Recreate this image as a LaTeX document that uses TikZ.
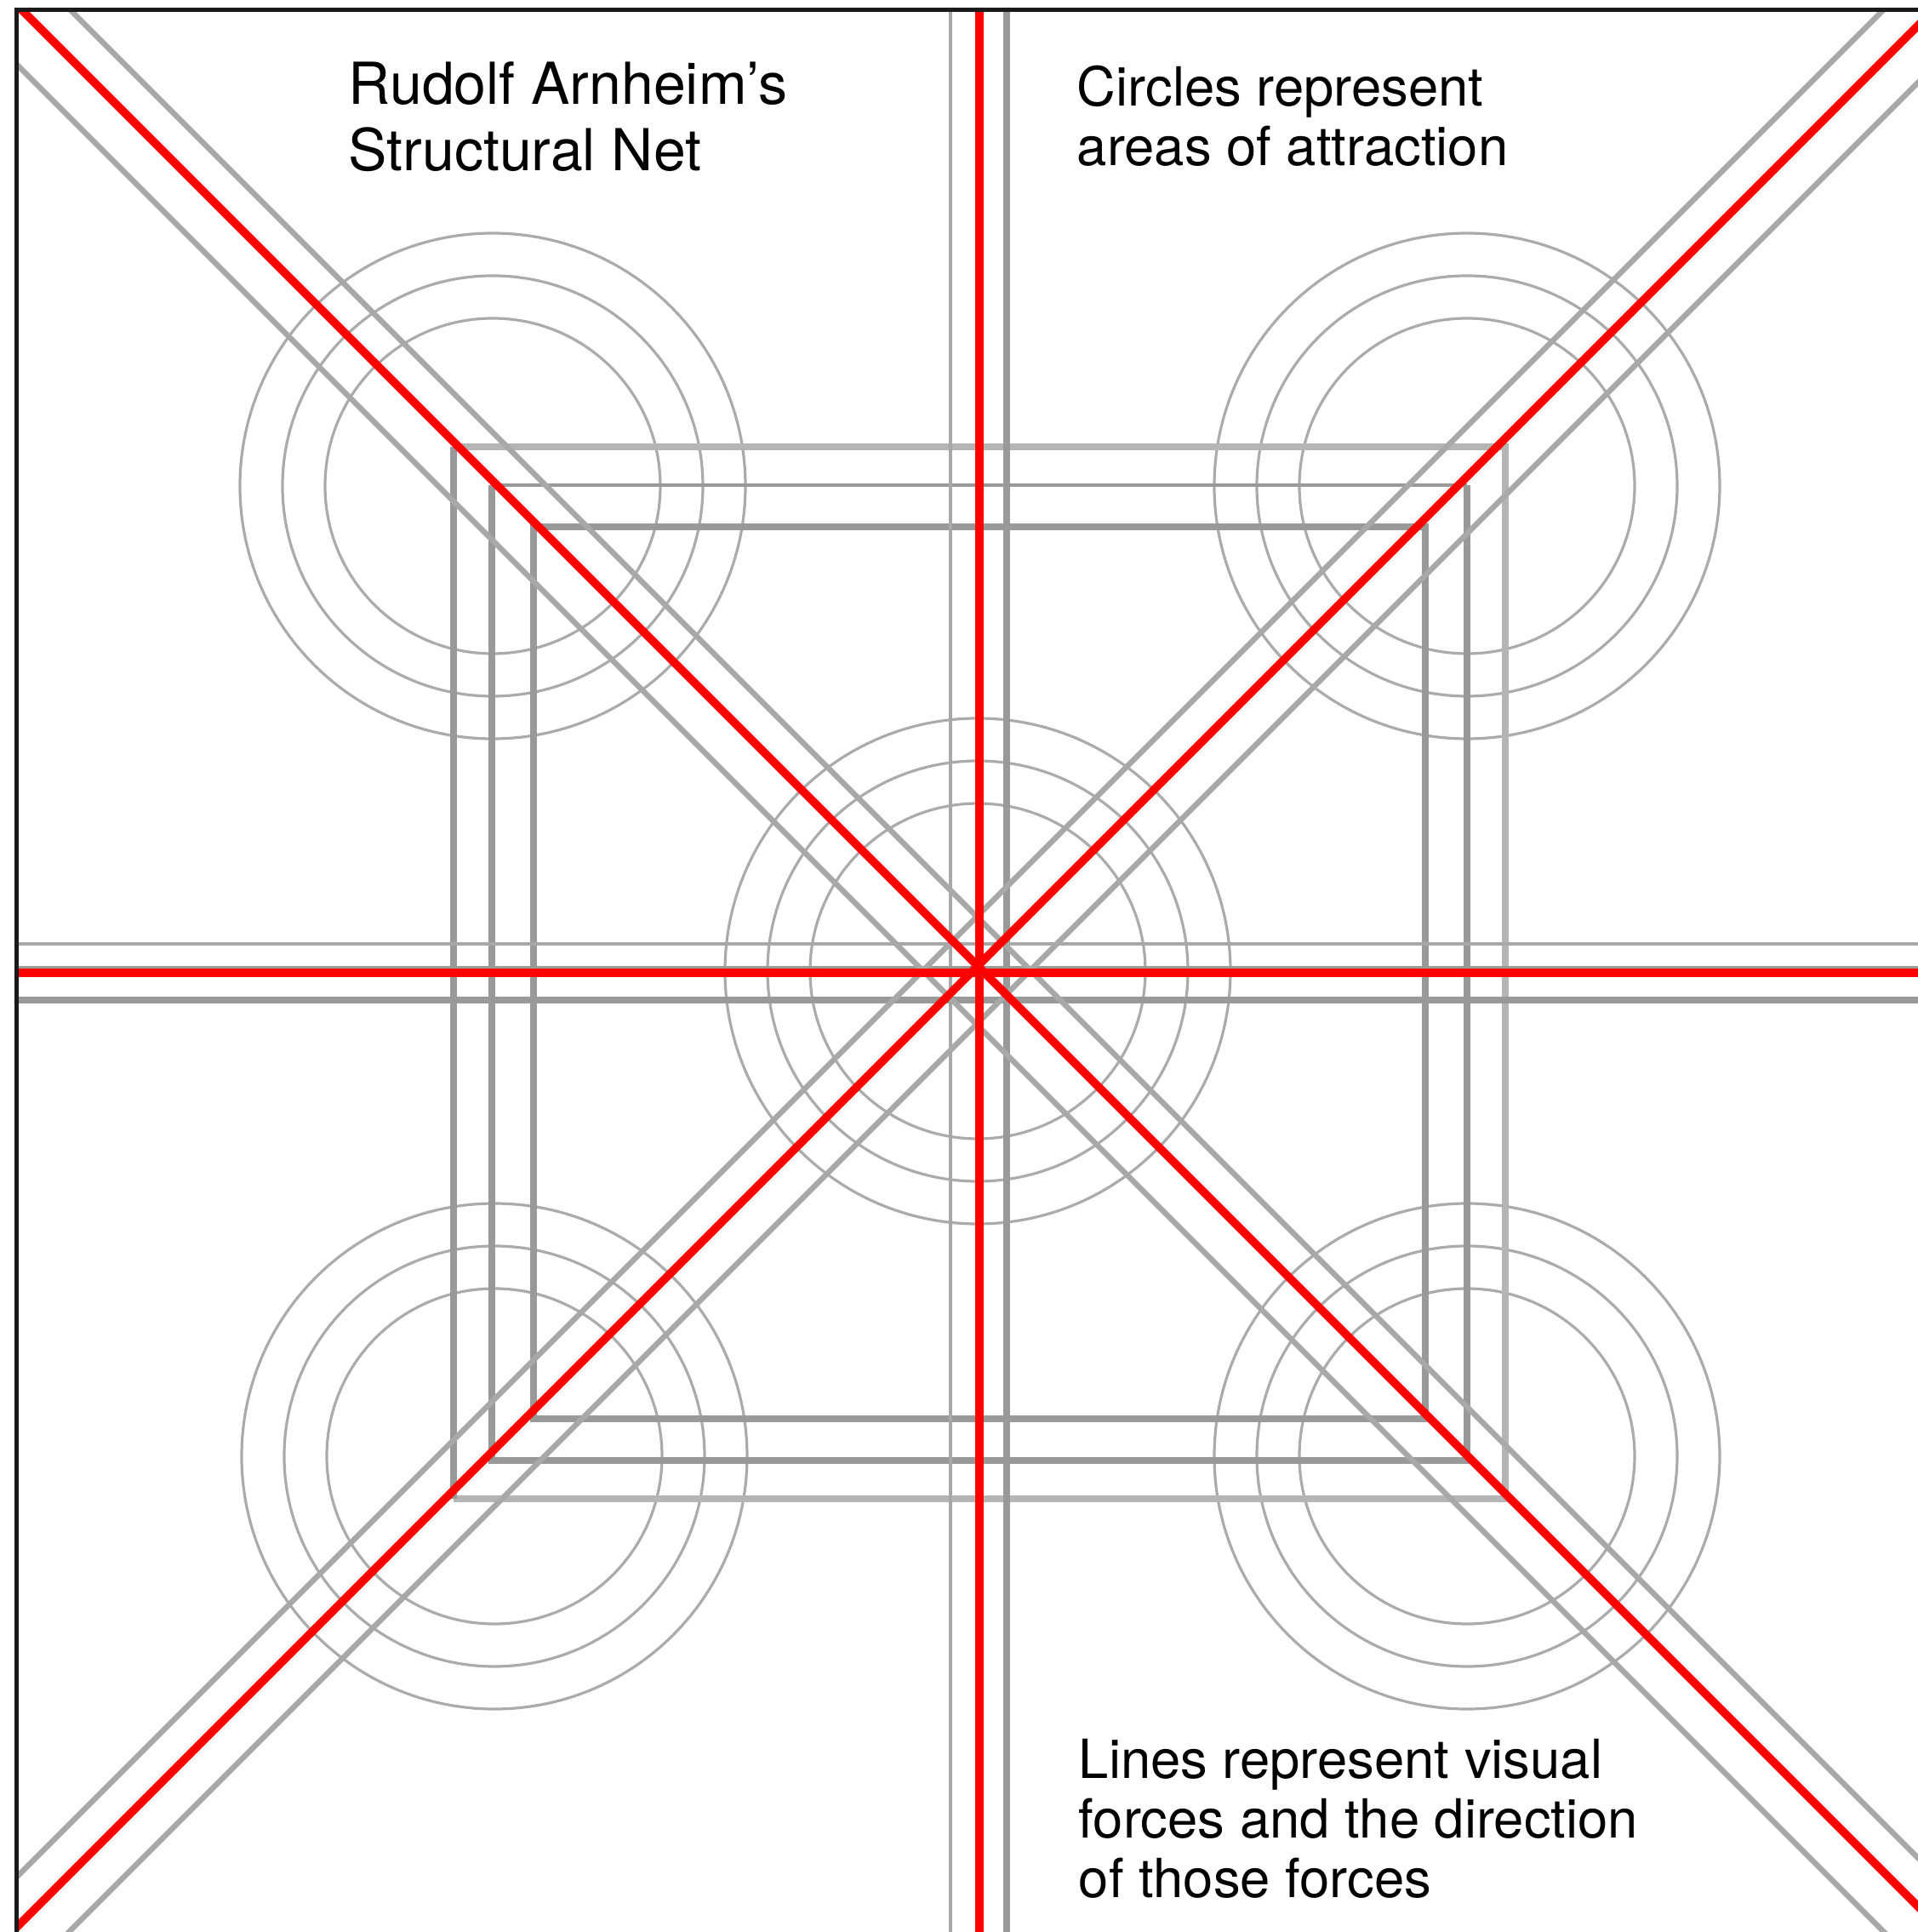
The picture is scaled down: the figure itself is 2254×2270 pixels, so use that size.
\documentclass[tikz,border=0pt]{standalone}
\usepackage{fontspec}
\setmainfont{TeX Gyre Heros}
\definecolor{forcered}{HTML}{FF0000}
\definecolor{framegray}{HTML}{1A1A1A}
\definecolor{guidegray}{HTML}{A8A8A8}
\definecolor{netdark}{HTML}{999999}
\definecolor{netlight}{HTML}{B5B5B5}
\definecolor{ringgray}{HTML}{ABABAB}

\begin{document}
\begin{tikzpicture}[
    x=0.25pt, y=0.25pt,
    every node/.style={inner sep=0pt, anchor=north west, align=left},
    nettitle/.style={font=\fontsize{17}{19.5}\selectfont},
    netnote/.style={font=\fontsize{15.85}{17.5}\selectfont},
    force/.style={draw=forcered, line width=2.4pt},
    guide/.style={draw=guidegray, line width=1.6pt},
    axthin/.style={draw=netdark!85, line width=1pt},
    axthick/.style={draw=netdark, line width=2.2pt},
    sqdark/.style={draw=netdark, line width=1.9pt, line cap=square},
    sqlight/.style={draw=netlight, line width=1.9pt, line cap=square},
    ring/.style={draw=ringgray, line width=0.8pt}
]
\useasboundingbox (-1151,-1127) rectangle (1103,1143);
\coordinate (c) at (0,0);

\begin{scope}
\clip (-1131,-1127) rectangle (1103,1131);

% --- areas of attraction ---
\foreach \cx/\cy in {-572/572, 573/572, -570/-568, 573/-568, -2/2}
  \foreach \r in {197,247,297}
    \draw[ring] (\cx,\cy) circle[radius=\r];

% --- nested squares ---
\draw[sqlight] (-618,618) -- (618,618) -- (618,-618) -- (-618,-618);
\draw[sqdark] (-618,-618) -- (-618,618);
\draw[sqdark] (573,573) -- (573,-573) -- (-573,-573) -- (-573,573);
\draw[sqdark, line width=0.9pt] (-573,573) -- (573,573);
\draw[sqdark] (-524,-524) rectangle (524,524);

% --- axes ---
\draw[axthin]  (-34,-1200) -- (-34,1200);
\draw[axthick] (32,-1200) -- (32,1200);
\draw[axthin]  (-1200,34) -- (1200,34);
\draw[axthick] (-1200,-32) -- (1200,-32);
\draw[axthick] (-1200,4) -- (1200,4);

% --- diagonals ---
\draw[guide] (-1300,1363) -- (1300,-1237);
\draw[guide] (-1300,1236) -- (1300,-1364);
\draw[guide] (-1300,-1231) -- (1300,1369);
\draw[guide] (-1300,-1357) -- (1300,1243);

% --- main forces ---
\draw[force] (-1300,1306) -- (1300,-1294);
\draw[force] (-1300,-1290) -- (1300,1310);
\draw[force] (c) ++(0,-1200) -- ++(0,2400);
\draw[force] (c) ++(-1200,0) -- ++(2400,0);
\end{scope}

% --- frame ---
\draw[draw=framegray, line width=1.25pt] (1103,1131) -- (-1131,1131) -- (-1131,-1127);

% --- texts ---
\node[nettitle] (title) at (-742,1071) {Rudolf Arnheim’s\\Structural Net};
\node[netnote] (circnote) at (114,1067) {Circles represent\\areas of attraction};
\node[netnote] (linenote) at (116,-899) {Lines represent visual\\forces and the direction\\of those forces};

\end{tikzpicture}
\end{document}
